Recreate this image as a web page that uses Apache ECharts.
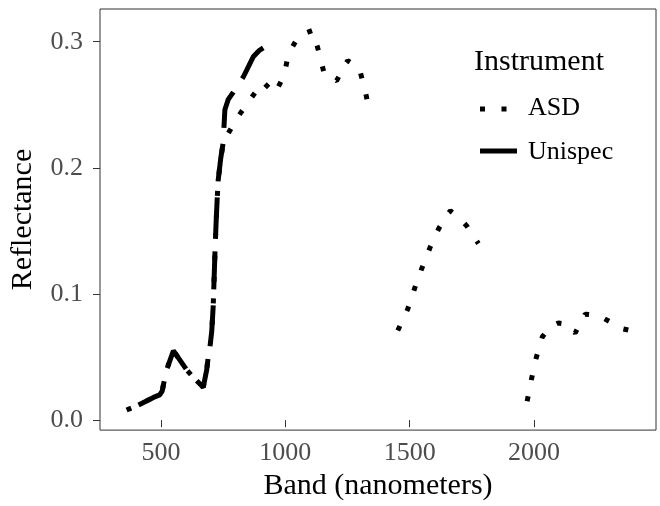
<!DOCTYPE html>
<html><head><meta charset="utf-8">
<script src="https://cdn.jsdelivr.net/npm/echarts@6/dist/echarts.min.js"></script>
<style>html,body{margin:0;padding:0;background:#fff}#c{width:660px;height:506px}</style>
</head><body><div id="c"></div>
<script>
const xTicks = [500, 1000, 1500, 2000];
const yTicks = [0, 0.1, 0.2, 0.3];
const legendTitle = 'Instrument';
const seriesNames = ['ASD', 'Unispec'];

const asdBand = [362,410,440,470,495,505,510,523,550,575,603,630,650,670,678,684,690,697,704,710,715,718,722,726,730,740,750,764,804,858,910,958,995,1012,1055,1110,1136,1157,1206,1250,1297,1320,1340,
  1400,
  1452,1492,1519,1548,1582,1617,1663,1700,1729,1776,
  1870,
  1972,1990,2008,2033,2065,2098,2132,2165,2205,2258,2305,2343,2388];
const asdRefl = [0.008,0.012,0.015,0.018,0.020,0.023,0.028,0.040,0.055,0.048,0.040,0.034,0.030,0.026,0.025,0.040,0.050,0.058,0.070,0.090,0.120,0.138,0.158,0.175,0.190,0.207,0.219,0.225,0.239,0.254,0.268,0.259,0.273,0.290,0.305,0.309,0.291,0.274,0.269,0.285,0.279,0.262,0.243,
  null,
  0.071,0.088,0.104,0.120,0.137,0.152,0.166,0.160,0.154,0.140,
  null,
  0.015,0.033,0.049,0.066,0.074,0.077,0.076,0.069,0.084,0.083,0.078,0.073,0.071];

const uniBand = [410,440,470,495,505,510,523,550,575,603,630,650,670,678,684,690,697,704,710,715,718,722,726,730,740,750,757,770,791,831,871,895,918];
const uniRefl = [0.012,0.015,0.018,0.020,0.023,0.028,0.040,0.055,0.048,0.040,0.034,0.030,0.026,0.025,0.040,0.050,0.058,0.070,0.090,0.120,0.138,0.158,0.175,0.190,0.207,0.220,0.246,0.254,0.260,0.272,0.288,0.293,0.296];

const pair = (xs, ys) => xs.map((x, i) => [x, ys[i] === null ? '-' : ys[i]]);
const FONT = 'Liberation Serif';
const TITLE_SIZE = 30;
const TEXT_SIZE = 26;
const ASD_DASH = [5, 16.5];
const UNI_DASH = [38, 16];

const chart = echarts.init(document.getElementById('c'), null, {renderer: 'canvas'});
chart.setOption({
  animation: false,
  backgroundColor: '#fff',
  graphic: [
    {type: 'text', left: 474, top: 47, style: {text: legendTitle, font: TITLE_SIZE + 'px "' + FONT + '"', fill: '#000'}},
    {type: 'line', shape: {x1: 480, y1: 109, x2: 518, y2: 109}, style: {stroke: '#000', lineWidth: 5, lineDash: ASD_DASH, lineCap: 'butt'}},
    {type: 'text', x: 528, y: 108, style: {text: seriesNames[0], font: TEXT_SIZE + 'px "' + FONT + '"', fill: '#000', verticalAlign: 'middle'}},
    {type: 'line', shape: {x1: 480, y1: 151, x2: 517, y2: 151}, style: {stroke: '#000', lineWidth: 5, lineCap: 'butt'}},
    {type: 'text', x: 528, y: 152, style: {text: seriesNames[1], font: TEXT_SIZE + 'px "' + FONT + '"', fill: '#000', verticalAlign: 'middle'}}
  ],
  grid: {left: 100, right: 4, top: 9, bottom: 75, show: true, borderColor: '#333', borderWidth: 1, containLabel: false},
  xAxis: {
    type: 'value', min: 255, max: 2490,
    name: 'Band (nanometers)', nameLocation: 'middle', nameGap: 39,
    nameTextStyle: {fontFamily: FONT, fontSize: TITLE_SIZE, color: '#000'},
    axisLine: {show: false},
    splitLine: {show: false},
    axisTick: {show: true, length: 7, lineStyle: {color: '#333'}, customValues: xTicks},
    axisLabel: {customValues: xTicks, formatter: v => String(v), fontFamily: FONT, fontSize: TEXT_SIZE, color: '#4D4D4D', margin: 10}
  },
  yAxis: {
    type: 'value', min: -0.0079, max: 0.3259,
    name: 'Reflectance', nameLocation: 'middle', nameGap: 62,
    nameTextStyle: {fontFamily: FONT, fontSize: TITLE_SIZE, color: '#000'},
    axisLine: {show: false},
    splitLine: {show: false},
    axisTick: {show: true, length: 7, lineStyle: {color: '#333'}, customValues: yTicks},
    axisLabel: {customValues: yTicks, formatter: v => v.toFixed(1), fontFamily: FONT, fontSize: TEXT_SIZE, color: '#4D4D4D', margin: 17}
  },
  series: [
    {
      name: seriesNames[0], type: 'line', data: pair(asdBand, asdRefl),
      symbol: 'none', showSymbol: false, connectNulls: false,
      lineStyle: {color: '#000', width: 5, type: ASD_DASH, cap: 'butt'}
    },
    {
      name: seriesNames[1], type: 'line', data: pair(uniBand, uniRefl),
      symbol: 'none', showSymbol: false,
      lineStyle: {color: '#000', width: 5, type: UNI_DASH, cap: 'butt'}
    }
  ]
});
</script></body></html>
